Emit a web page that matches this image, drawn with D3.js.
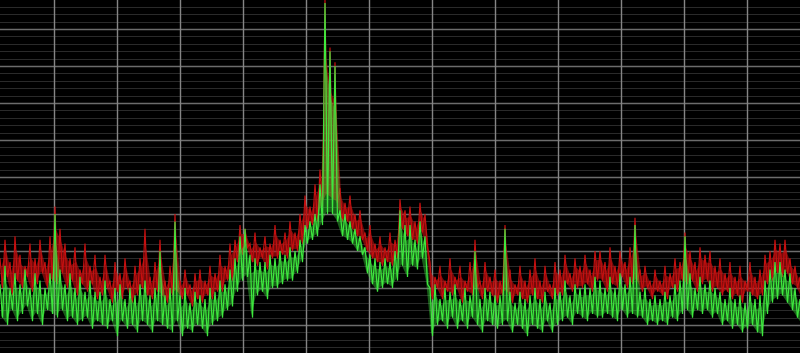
<!DOCTYPE html>
<html lang="en">
<head>
    <meta charset="UTF-8">
    <title>Spectrum</title>
    <style>
        html, body { margin: 0; padding: 0; background: #000; overflow: hidden; }
        svg { display: block; }
    </style>
</head>
<body>
<script src="https://d3js.org/d3.v7.min.js"></script>
<script>
    const width = 800, height = 353;

    // frequency grid (one division per unit) and level grid in dB
    const freqStart = -0.862, freqEnd = 11.836;
    const freqTicks = [0, 1, 2, 3, 4, 5, 6, 7, 8, 9, 10, 11];
    const levelMajor = [-10, -20, -30, -40, -50, -60, -70, -80, -90];
    const levelMinor = d3.range(0, -101, -2);

    // traces, one sample every 5/63 division; hi = top of the band, lo = bottom
    const redHi = [-72,-67,-73,-66,-71,-74,-68,-72,-67,-73,-66,-58,-64,-68,-72,-69,-75,-68,-74,-71,
        -77,-71,-78,-73,-76,-72,-78,-74,-72,-64,-77,-73,-67,-78,-74,-60,-78,-75,-79,-76,
        -75,-78,-74,-76,-71,-74,-68,-67,-63,-64,-68,-65,-69,-66,-68,-63,-67,-65,-62,-65,
        -60,-55,-58,-52,-48,-2,-15,-19,-53,-57,-55,-60,-59,-65,-63,-68,-66,-69,-65,-67,
        -56,-59,-58,-62,-57,-60,-73,-77,-74,-78,-72,-77,-74,-78,-73,-67,-78,-73,-77,-75,
        -78,-63,-75,-79,-74,-78,-75,-72,-78,-74,-79,-73,-75,-71,-76,-72,-74,-71,-75,-70,
        -70,-73,-69,-74,-70,-73,-69,-61,-75,-74,-78,-75,-78,-74,-76,-72,-73,-65,-70,-73,
        -69,-71,-70,-74,-72,-76,-73,-77,-74,-78,-73,-77,-75,-71,-70,-67,-68,-67,-72,-74,-77];
    const redLo = [-80,-77,-82,-78,-80,-77,-81,-79,-76,-80,-78,-79,-76,-80,-78,-82,-79,-81,-79,-83,
        -82,-80,-84,-81,-83,-80,-84,-82,-80,-82,-83,-81,-82,-84,-82,-81,-83,-82,-85,-83,
        -84,-82,-83,-81,-81,-78,-78,-73,-71,-69,-73,-74,-72,-75,-72,-72,-71,-72,-70,-70,
        -68,-64,-63,-62,-58,-55,-56,-57,-62,-62,-64,-66,-67,-70,-72,-73,-74,-73,-74,-72,
        -64,-66,-67,-68,-65,-69,-83,-80,-83,-81,-82,-80,-84,-81,-82,-80,-83,-81,-82,-84,
        -82,-81,-84,-82,-83,-84,-82,-83,-84,-81,-83,-82,-82,-79,-81,-80,-80,-79,-81,-78,
        -78,-81,-79,-80,-77,-80,-79,-78,-81,-80,-83,-81,-82,-83,-80,-81,-78,-79,-78,-81,
        -79,-78,-81,-80,-82,-81,-83,-82,-84,-81,-82,-83,-82,-79,-78,-76,-77,-76,-79,-80,-83];
    const greenHi = [-79,-74,-80,-76,-79,-75,-80,-76,-78,-80,-76,-60,-75,-79,-76,-80,-77,-81,-78,-81,
        -81,-78,-83,-80,-79,-83,-80,-82,-79,-78,-82,-80,-70,-82,-80,-62,-82,-80,-84,-81,
        -82,-83,-80,-81,-78,-79,-75,-72,-66,-64,-71,-72,-73,-73,-71,-72,-70,-71,-69,-70,
        -67,-63,-62,-60,-52,-3,-16,-20,-59,-60,-62,-64,-66,-69,-71,-72,-73,-72,-73,-70,
        -59,-63,-63,-67,-62,-66,-80,-79,-83,-80,-81,-79,-83,-80,-82,-70,-83,-80,-81,-82,
        -82,-64,-81,-84,-81,-83,-82,-80,-83,-81,-84,-80,-81,-78,-82,-79,-80,-79,-80,-77,
        -78,-80,-77,-80,-76,-79,-77,-63,-81,-80,-83,-82,-83,-81,-82,-79,-78,-66,-76,-80,
        -77,-79,-78,-80,-81,-83,-80,-83,-82,-84,-81,-83,-82,-78,-75,-73,-73,-75,-76,-80,-83];
    const greenLo = [-88,-90,-86,-89,-87,-85,-89,-87,-90,-86,-87,-88,-86,-89,-88,-90,-89,-88,-91,-89,
        -90,-91,-89,-93,-89,-91,-90,-92,-89,-90,-92,-89,-90,-91,-92,-89,-93,-91,-92,-90,
        -91,-93,-90,-89,-88,-86,-85,-81,-78,-77,-88,-82,-81,-83,-80,-80,-79,-78,-78,-76,
        -73,-68,-67,-66,-63,-60,-60,-62,-66,-67,-68,-70,-71,-76,-79,-81,-80,-79,-80,-78,
        -74,-77,-74,-75,-72,-79,-93,-90,-89,-91,-88,-91,-89,-91,-88,-90,-92,-89,-90,-91,
        -90,-89,-92,-90,-91,-93,-90,-91,-92,-89,-92,-90,-89,-88,-90,-87,-88,-89,-87,-88,
        -88,-87,-88,-89,-86,-88,-87,-88,-88,-90,-89,-90,-89,-90,-88,-89,-87,-86,-88,-86,
        -87,-86,-88,-87,-90,-89,-91,-90,-92,-91,-90,-92,-93,-87,-84,-83,-82,-84,-86,-88,-90];

    const step = (freqEnd - freqStart) / (redHi.length - 1);
    const freqAt = i => freqStart + i * step;

    const x = d3.scaleLinear().domain([freqStart, freqEnd]).range([0, width]);
    const y = d3.scaleLinear().domain([0, -100]).range([-8, 362]);

    const svg = d3.select("body")
        .append("svg")
        .attr("width", width)
        .attr("height", height);

    svg.append("rect")
        .attr("width", width)
        .attr("height", height)
        .attr("fill", "#000");

    // minor level lines
    svg.append("g")
        .selectAll("line")
        .data(levelMinor)
        .join("line")
        .attr("x1", 0).attr("x2", width)
        .attr("y1", d => Math.round(y(d)) + 0.5).attr("y2", d => Math.round(y(d)) + 0.5)
        .attr("stroke", "#2a2a2a")
        .attr("stroke-width", 1.2);

    // major level lines
    svg.append("g")
        .selectAll("line")
        .data(levelMajor)
        .join("line")
        .attr("x1", 0).attr("x2", width)
        .attr("y1", d => Math.round(y(d)) + 0.5).attr("y2", d => Math.round(y(d)) + 0.5)
        .attr("stroke", "#6c6c6c")
        .attr("stroke-width", 1.4);

    // frequency lines
    svg.append("g")
        .selectAll("line")
        .data(freqTicks)
        .join("line")
        .attr("x1", d => Math.round(x(d)) + 0.5).attr("x2", d => Math.round(x(d)) + 0.5)
        .attr("y1", 0).attr("y2", height)
        .attr("stroke", "#858585")
        .attr("stroke-width", 1.4);

    // zig-zag between top and bottom of the band, half a sample apart
    function tracePoints(hi, lo) {
        const pts = [];
        hi.forEach((v, i) => {
            pts.push([x(freqAt(i)), y(v)]);
            pts.push([x(freqAt(i + 0.5)), y(lo[i])]);
        });
        return pts;
    }

    const line = d3.line();
    const band = d3.area()
        .x((d, i) => x(freqAt(i + 0.25)));

    function drawTrace(hi, lo, colour, fillOpacity) {
        const rows = hi.map((v, i) => [v, lo[i]]);
        svg.append("path")
            .attr("d", band.y0(d => y(d[1] + 0.5)).y1(d => y(d[0] - (d[0] - d[1]) * 0.3))(rows))
            .attr("fill", colour)
            .attr("opacity", fillOpacity);
        svg.append("path")
            .attr("d", line(tracePoints(hi, lo)))
            .attr("fill", "none")
            .attr("stroke", colour)
            .attr("stroke-width", 1.2);
    }

    drawTrace(redHi, redLo, "#c41010", 0.6);
    drawTrace(greenHi, greenLo, "#3ee83e", 0.4);
</script>
</body>
</html>
